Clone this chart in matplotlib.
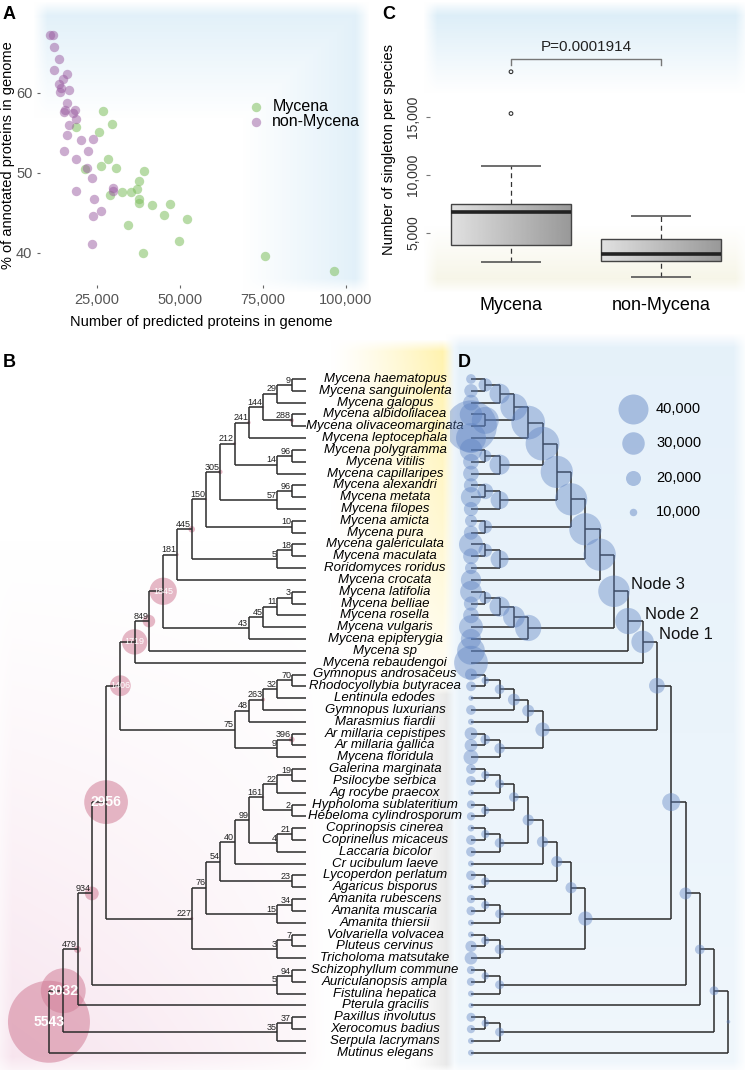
import numpy as np
import matplotlib
matplotlib.use("Agg")
import matplotlib.pyplot as plt
from matplotlib.patches import Rectangle

W, H = 745, 1070
plt.rcParams['font.family'] = ['Liberation Sans Narrow', 'Liberation Sans', 'DejaVu Sans']

# ---------------- panel A : proteins vs % annotated ----------------
myc_prot = [18600, 26700, 25500, 29600, 21400, 26200, 28300, 30600, 28900, 32600,
            35200, 37100, 37800, 39300, 37600, 37800, 41700, 46900, 45300, 34200,
            52200, 49800, 38800, 75700, 96300]
myc_annot = [55.75, 57.7, 55.1, 56.1, 50.5, 50.9, 51.75, 50.6, 47.3, 47.6,
             47.6, 48.0, 49.0, 50.2, 46.7, 46.2, 46.0, 46.1, 44.7, 43.5,
             44.2, 41.5, 40.0, 39.6, 37.7]
non_prot = [10900, 11700, 11900, 13700, 11900, 13500, 16000, 14800, 14300, 14000,
            16700, 16000, 15200, 15500, 18400, 17800, 18600, 16700, 16000, 15200,
            20300, 18600, 23900, 22400, 22100, 23500, 18800, 24100, 26200, 23700,
            23500, 29800, 29800]
non_annot = [67.2, 67.2, 65.75, 64.25, 62.9, 61.1, 62.4, 61.7, 60.6, 60.1,
             60.3, 58.7, 57.6, 57.9, 57.8, 57.5, 56.7, 56.0, 54.7, 52.8,
             54.1, 51.7, 54.25, 52.7, 50.6, 49.4, 47.8, 46.7, 45.3, 44.6,
             41.1, 48.1, 47.7]

# ---------------- panel C : singletons boxplot ----------------
box_groups = ['Mycena', 'non-Mycena']
box_lo = [2530, 1230]
box_q1 = [3970, 2590]
box_med = [6780, 3190]
box_q3 = [7500, 4460]
box_hi = [10800, 6470]
box_outliers = [[15300, 18900], []]
p_text = 'P=0.0001914'

# ---------------- panels B / D : species tree ----------------
species = ['Mycena haematopus', 'Mycena sanguinolenta', 'Mycena galopus', 'Mycena albidolilacea',
           'Mycena olivaceomarginata', 'Mycena leptocephala', 'Mycena polygramma', 'Mycena vitilis',
           'Mycena capillaripes', 'Mycena alexandri', 'Mycena metata', 'Mycena filopes',
           'Mycena amicta', 'Mycena pura', 'Mycena galericulata', 'Mycena maculata',
           'Roridomyces roridus', 'Mycena crocata', 'Mycena latifolia', 'Mycena belliae',
           'Mycena rosella', 'Mycena vulgaris', 'Mycena epipterygia', 'Mycena sp',
           'Mycena rebaudengoi', 'Gymnopus androsaceus', 'Rhodocyollybia butyracea', 'Lentinula edodes',
           'Gymnopus luxurians', 'Marasmius fiardii', 'Ar millaria cepistipes', 'Ar millaria gallica',
           'Mycena floridula', 'Galerina marginata', 'Psilocybe serbica', 'Ag rocybe praecox',
           'Hypholoma sublateritium', 'Hebeloma cylindrosporum', 'Coprinopsis cinerea', 'Coprinellus micaceus',
           'Laccaria bicolor', 'Cr ucibulum laeve', 'Lycoperdon perlatum', 'Agaricus bisporus',
           'Amanita rubescens', 'Amanita muscaria', 'Amanita thiersii', 'Volvariella volvacea',
           'Pluteus cervinus', 'Tricholoma matsutake', 'Schizophyllum commune', 'Auriculanopsis ampla',
           'Fistulina hepatica', 'Pterula gracilis', 'Paxillus involutus', 'Xerocomus badius',
           'Serpula lacrymans', 'Mutinus elegans']

# leaf numbers index species; internal labels are "gained families | genes (thousands)"
tree = ("(" * 18 +
        "0,1)9|18,2)29|27,(3,4)288|36)144|36,5)241|45,((6,7)96|16,8)14|27)212|45,"
        "((9,10)96|21,11)57|24)305|43,(12,13)10|18)150|43,((14,15)18|18,16)5|24)445|43,17)181|43,"
        "((((18,19)3|16,20)11|27,21)45|29,22)43|35)1845|42,23)849|35,24)1719|30,"
        "(((((25,26)70|10,27)32|13,28)263|16,29)48|16,((30,31)396|13,32)9|14)75|19)1406|21,"
        "((((((((33,34)19|11,35)22|12,(36,37)2|11)161|13,((38,39)21|11,40)4|13)99|15,41)40|15,"
        "(42,43)23|11)54|15,((44,45)34|11,46)15|12)76|15,((47,48)7|11,49)3|13)227|19)2956|24,"
        "((50,51)94|10,52)5|12)934|16,53)479|13,((54,55)37|10,56)35|12)3032|12,57)5543|5")
leaf_genes_k = [13, 18, 21, 30, 69, 40, 30, 21, 21, 19, 27, 19, 16, 19, 32, 21, 16, 27, 29, 19,
                21, 32, 27, 37, 45, 16, 13, 7, 13, 8, 17, 17, 20, 13, 13, 8, 11, 11, 9, 13,
                13, 8, 13, 8, 11, 12, 8, 8, 15, 17, 11, 11, 8, 7, 12, 11, 8, 8]
node_names = {1845: 'Node 3', 849: 'Node 2', 1719: 'Node 1'}
legend_genes = [40000, 30000, 20000, 10000]


def parse(s):
    pos = 0

    def node():
        nonlocal pos
        if s[pos] == '(':
            pos += 1
            kids = [node()]
            while s[pos] == ',':
                pos += 1
                kids.append(node())
            pos += 1
            start = pos
            while pos < len(s) and s[pos] not in ',)':
                pos += 1
            gain, genes = s[start:pos].split('|')
            return {'kids': kids, 'gain': int(gain), 'genes': float(genes) * 1000}
        start = pos
        while s[pos] not in ',)':
            pos += 1
        return {'leaf': int(s[start:pos])}
    return node()


def layout(n, nodes):
    if 'leaf' in n:
        n['y'], n['h'] = n['leaf'], 0
        n['genes'] = leaf_genes_k[n['leaf']] * 1000
    else:
        for k in n['kids']:
            layout(k, nodes)
        n['y'] = np.mean([k['y'] for k in n['kids']])
        n['h'] = max(k['h'] for k in n['kids']) + 1
    nodes.append(n)


root = parse(tree)
nodes = []
layout(root, nodes)
internal = [n for n in nodes if 'kids' in n]

# ---------------- figure + soft backgrounds ----------------
fig = plt.figure(figsize=(W / 100, H / 100), dpi=100)

yy, xx = np.mgrid[0:H, 0:W].astype(float)
bg = np.ones((H, W, 3))


def soft_box(x0, x1, y0, y1, f=10):
    return (np.clip((xx - x0) / f + 0.5, 0, 1) * np.clip((x1 - xx) / f + 0.5, 0, 1) *
            np.clip((yy - y0) / f + 0.5, 0, 1) * np.clip((y1 - yy) / f + 0.5, 0, 1))


def paint(alpha, color):
    global bg
    a = np.clip(alpha, 0, 1)[..., None]
    bg = bg * (1 - a) + np.array(color) * a


paint(soft_box(40, 362, 8, 285, 14) * np.maximum(np.clip(1 - (yy - 8) / 110, 0, 1),
                                                 np.clip(1 - (362 - xx) / 120, 0, 1)) * 0.5,
      (0.76, 0.88, 0.95))
paint(soft_box(430, 742, 8, 285, 14) * np.clip(1 - (yy - 8) / 85, 0, 1) * 0.6, (0.76, 0.88, 0.95))
paint(soft_box(430, 742, 8, 285, 14) * np.clip(1 - (285 - yy) / 60, 0, 1) * 0.45, (0.92, 0.91, 0.78))
paint(soft_box(0, 318, 540, 1068, 24) * np.clip((yy - 540) / 528, 0, 1) ** 1.3 *
      np.clip(1 - xx / 340, 0, 1) ** 0.6 * 0.45, (0.93, 0.76, 0.85))
paint(soft_box(330, 448, 345, 700, 12) * np.clip(1 - (yy - 345) / 355, 0, 1) ** 0.8 *
      np.clip((xx - 330) / 118, 0, 1) ** 1.3 * 0.75, (1.0, 0.93, 0.55))
paint(soft_box(405, 450, 690, 1068, 8) * np.clip((xx - 405) / 45, 0, 1) ** 1.5 * 0.45, (0.78, 0.78, 0.78))
paint(soft_box(452, 740, 340, 1068, 14) * (0.5 - 0.2 * (yy - 340) / 728), (0.80, 0.89, 0.96))

bgax = fig.add_axes([0, 0, 1, 1])
bgax.imshow(bg, extent=(0, W, H, 0), aspect='auto', interpolation='bilinear')
bgax.axis('off')


def px_axes(x0, y0, x1, y1):
    ax = fig.add_axes([x0 / W, 1 - y1 / H, (x1 - x0) / W, (y1 - y0) / H])
    ax.patch.set_alpha(0)
    for sp in ax.spines.values():
        sp.set_visible(False)
    return ax


# ---------------- panel A ----------------
axA = px_axes(40, 8, 362, 285)
axA.scatter(myc_prot, myc_annot, s=46, color='#7fbf5f', alpha=0.55, lw=0, label='Mycena')
axA.scatter(non_prot, non_annot, s=46, color='#995aa0', alpha=0.5, lw=0, label='non-Mycena')
axA.set_xlim(7831, 104819)
axA.set_ylim(36.0, 70.6)
axA.set_xticks([25000, 50000, 75000, 100000])
axA.set_xticklabels(['25,000', '50,000', '75,000', '100,000'])
axA.set_yticks([40, 50, 60])
axA.tick_params(colors='#666', labelcolor='#555', labelsize=10.5, length=2, width=0.8)
axA.set_xlabel('Number of predicted proteins in genome', fontsize=10.5, labelpad=6)
axA.set_ylabel('% of annotated proteins in genome', fontsize=10.5)
axA.yaxis.set_label_coords(-0.078, 0.47)
axA.legend(loc='upper left', bbox_to_anchor=(0.62, 0.67), frameon=False, fontsize=11.5,
           handletextpad=0.05, labelspacing=0.0, borderaxespad=0, borderpad=0, markerscale=1.0)

# ---------------- panel C ----------------
axC = px_axes(430, 8, 742, 285)
pos = np.arange(1, len(box_groups) + 1)
grad = np.linspace(0.88, 0.6, 100)[None, :]
for i, p in enumerate(pos):
    axC.imshow(grad, extent=(p - 0.4, p + 0.4, box_q1[i], box_q3[i]), cmap='gray',
               vmin=0, vmax=1, aspect='auto', zorder=2)
    axC.add_patch(Rectangle((p - 0.4, box_q1[i]), 0.8, box_q3[i] - box_q1[i], fill=False,
                            ec='#444', lw=1.0, zorder=3))
    axC.hlines(box_med[i], p - 0.4, p + 0.4, color='#222', lw=2.6, zorder=4)
    axC.vlines(p, box_q3[i], box_hi[i], color='#333', lw=0.9, ls=(0, (4, 3)))
    axC.vlines(p, box_lo[i], box_q1[i], color='#333', lw=0.9, ls=(0, (4, 3)))
    axC.hlines([box_lo[i], box_hi[i]], p - 0.2, p + 0.2, color='#555', lw=1.2)
    if box_outliers[i]:
        axC.scatter([p] * len(box_outliers[i]), box_outliers[i], s=7, facecolor='none',
                    edgecolor='#333', lw=0.8, zorder=4)
axC.plot([1, 1, 2, 2], [19480, 19970, 19970, 19480], color='#777', lw=1.0)
axC.text(1.5, 20400, p_text, ha='center', va='bottom', fontsize=11, color='#222')
axC.set_xlim(0.46, 2.54)
axC.set_ylim(517, 24397)
axC.set_xticks(pos)
axC.set_xticklabels(box_groups, fontsize=13)
axC.tick_params(axis='x', length=0, pad=9)
axC.set_yticks([5000, 10000, 15000])
axC.set_yticklabels(['5,000', '10,000', '15,000'], rotation=90, va='center', fontsize=10, color='#333')
axC.tick_params(axis='y', length=3, color='#777', pad=4)
axC.set_ylabel('Number of singleton per species', fontsize=10.5)
axC.yaxis.set_label_coords(-0.109, 0.49)

# ---------------- panels B and D share the leaf axis ----------------
def y_px_to_leaf(p):
    return (p - 379) / 11.82


axB = px_axes(0, 340, 320, 1068)
axB.set_xlim(-306 / 14.28, 14 / 14.28)
axB.set_ylim(y_px_to_leaf(1068), y_px_to_leaf(340))
axB.set_xticks([])
axB.set_yticks([])

axD = px_axes(450, 340, 745, 1068)
axD.set_xlim(-21 / 14.3, 274 / 14.3)
axD.set_ylim(y_px_to_leaf(1068), y_px_to_leaf(340))
axD.set_xticks([])
axD.set_yticks([])

for ax, sign in ((axB, -1), (axD, 1)):
    for n in internal:
        ys = [k['y'] for k in n['kids']]
        ax.plot([sign * n['h']] * 2, [min(ys), max(ys)], color='#2b2b2b', lw=1.1,
                solid_capstyle='butt', zorder=2)
        for k in n['kids']:
            ax.plot([sign * n['h'], sign * k['h']], [k['y'], k['y']], color='#2b2b2b', lw=1.1,
                    solid_capstyle='butt', zorder=2)

# B: gained families, circle radius linear in count
pt_per_px = 72 / 100
b_r = [n['gain'] * 41 / 5543 for n in internal]
axB.scatter([-n['h'] for n in internal], [n['y'] for n in internal],
            s=[(2 * r * pt_per_px) ** 2 for r in b_r], color='#d27f98', alpha=0.55, lw=0, zorder=1)
for n in internal:
    g = n['gain']
    if g >= 2000:
        axB.text(-n['h'], n['y'], str(g), color='white', ha='center', va='center',
                 fontsize=10, fontweight='bold', zorder=4)
    elif g >= 1000:
        axB.text(-n['h'], n['y'], str(g), color='white', ha='center', va='center',
                 fontsize=6.5, zorder=4)
    else:
        axB.annotate(str(g), (-n['h'], n['y']), xytext=(-0.5, 0.2), textcoords='offset points',
                     ha='right', va='bottom', fontsize=6.5, color='#222', zorder=4)

for i, name in enumerate(species):
    axB.text((385 - 306) / 14.28, i, name, ha='center', va='center', fontsize=9.5,
             style='italic', clip_on=False, zorder=4)

# D: gene counts, circle radius linear in count (40,000 -> 15 px)
def d_size(v):
    return (2 * v * 15 / 40000 * pt_per_px) ** 2


axD.scatter([n['h'] for n in nodes], [n['y'] for n in nodes], s=[d_size(n['genes']) for n in nodes],
            color='#5a7fc0', alpha=0.4, lw=0, zorder=3)
for n in internal:
    if n['gain'] in node_names:
        axD.annotate(node_names[n['gain']], (n['h'], n['y']), xytext=(12, 5), textcoords='offset points',
                     ha='left', va='center', fontsize=12, color='#111')
handles = [axD.scatter([], [], s=d_size(v), color='#5a7fc0', alpha=0.45, lw=0) for v in legend_genes]
axD.legend(handles, ['{:,}'.format(v) for v in legend_genes], loc='upper left',
           bbox_to_anchor=(0.57, 0.915), frameon=False, fontsize=10.5, labelspacing=1.4,
           handletextpad=0.6, borderpad=0, borderaxespad=0)

# ---------------- panel letters ----------------
for lab, x, y in (('A', 3, 6), ('C', 382, 6), ('B', 3, 354), ('D', 458, 354)):
    fig.text(x / W, 1 - y / H, lab, fontsize=13, fontweight='bold', family='Liberation Sans',
             ha='left', va='top')

fig.savefig('out.png', dpi=100)
